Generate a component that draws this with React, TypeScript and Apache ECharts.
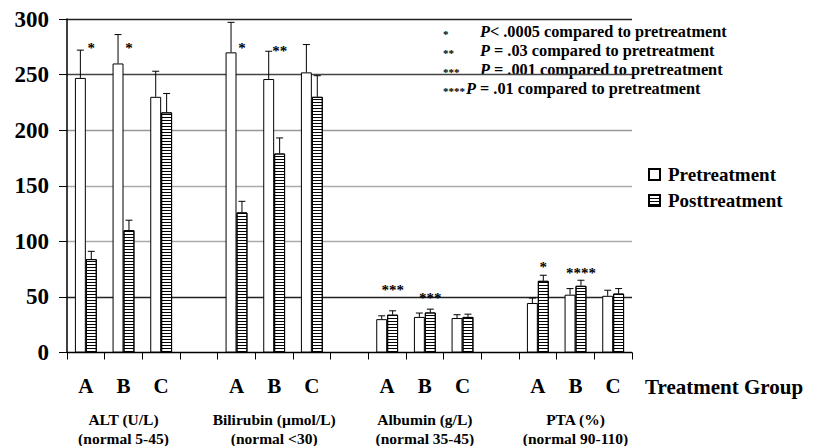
import React, { useEffect, useRef } from "react";
import * as echarts from "echarts";

const categories = ["A", "B", "C", "", "A", "B", "C", "", "A", "B", "C", "", "A", "B", "C"];
const groupNames = ["ALT (U/L)", "Bilirubin (µmol/L)", "Albumin (g/L)", "PTA (%)"];
const groupNormals = ["(normal 5-45)", "(normal <30)", "(normal 35-45)", "(normal 90-110)"];
const preValues = [247, 260, 230, null, 270, 246, 252, null, 30, 32, 31, null, 44.5, 52, 51];
const preErrTop = [272, 286, 253, null, 297, 271, 277, null, 33, 35.5, 34, null, 49, 57.5, 56];
const postValues = [84, 110, 216, null, 126, 179, 230, null, 34, 36, 32, null, 64.5, 60, 53];
const postErrTop = [91, 119, 233, null, 136, 193, 249, null, 37.5, 39, 34.5, null, 69.5, 65, 57.5];
const starLabels = ["*", "*", "", "", "*", "**", "", "", "***", "***", "", "", "*", "****", ""];
const starValues = [277, 277, null, null, 277, 274, null, null, 59, 52, null, null, 80, 74, null];
const yTicks = { min: 0, max: 300, interval: 50 };
const noteStars = ["*", "**", "***", "****"];
const noteTexts = ["< .0005 compared to pretreatment", " = .03 compared to pretreatment", " = .001 compared to pretreatment", " = .01 compared to pretreatment"];
const xAxisTitle = "Treatment Group";

const SERIF = "Liberation Serif";
const BAR_GAP = 0.42;

export default function App() {
  const ref = useRef<HTMLDivElement>(null);
  useEffect(() => {
    if (!ref.current) return;
    const chart = echarts.init(ref.current, undefined, { renderer: "svg" });
    const half = (1 - BAR_GAP) / 4;

    const errData = (vals: (number | null)[], tops: (number | null)[]) =>
      vals
        .map((v, i) => (v == null || tops[i] == null ? null : [i, v, tops[i]]))
        .filter((d) => d !== null);

    const makeErr = (name: string, data: any[], sign: number) => ({
      type: "custom",
      name,
      z: 5,
      silent: true,
      encode: { x: 0, y: 1 },
      data,
      renderItem: (params: any, api: any) => {
        const idx = api.value(0);
        const band = api.size([1, 0])[0];
        const base = api.coord([idx, api.value(1)]);
        const top = api.coord([idx, api.value(2)]);
        const x = base[0] + sign * band * half;
        const cap = 3.5;
        return {
          type: "group",
          children: [
            { type: "line", shape: { x1: x, y1: base[1], x2: x, y2: top[1] }, style: { stroke: "#000", lineWidth: 1 } },
            { type: "line", shape: { x1: x - cap, y1: top[1], x2: x + cap, y2: top[1] }, style: { stroke: "#000", lineWidth: 1 } },
          ],
        };
      },
    });

    const starData = starValues
      .map((v, i) => (v == null ? null : [i, v]))
      .filter((d) => d !== null);

    const yColors = ["#000", "#222", "#aaa", "#aaa", "#999", "#444", "#222"];

    const graphic: any[] = [];
    const noteY = [31, 50, 69, 88];
    noteStars.forEach((s, i) => {
      graphic.push({
        type: "text",
        x: 443,
        y: noteY[i] + 3,
        style: { text: s, fill: "#000", fontFamily: SERIF, fontSize: 11, fontWeight: "bold", verticalAlign: "middle" },
      });
      graphic.push({
        type: "text",
        x: i === 3 ? 466 : 480,
        y: noteY[i],
        style: {
          text: `{i|P}{n|${noteTexts[i]}}`,
          fill: "#000",
          verticalAlign: "middle",
          rich: {
            i: { fontFamily: SERIF, fontSize: 16.3, fontWeight: "bold", fontStyle: "italic", fill: "#000" },
            n: { fontFamily: SERIF, fontSize: 16.3, fontWeight: "bold", fill: "#000" },
          },
        },
      });
    });
    graphic.push({
      type: "text",
      x: 645,
      y: 387,
      style: { text: xAxisTitle, fill: "#000", fontFamily: SERIF, fontSize: 21, fontWeight: "bold", verticalAlign: "middle" },
    });

    chart.setOption({
      animation: false,
      grid: { left: 67, right: 185, top: 19, bottom: 92 },
      legend: {
        orient: "vertical",
        left: 643,
        top: 160,
        itemWidth: 11,
        itemHeight: 11,
        itemGap: 7,
        icon: "rect",
        data: ["Pretreatment", "Posttreatment"],
        textStyle: { fontFamily: SERIF, fontSize: 19, fontWeight: "bold", color: "#000", padding: [0, 0, 0, 3] },
      },
      xAxis: {
        type: "category",
        data: categories,
        axisLine: { lineStyle: { color: "#000", width: 1 } },
        axisTick: { show: true, length: 7, interval: 0, lineStyle: { color: "#000" } },
        axisLabel: {
          interval: 0,
          margin: 10,
          formatter: (v: string, i: number) => {
            if (i % 4 === 1) {
              const g = (i - 1) / 4;
              return `{l|${v}}\n{g|${groupNames[g]}}\n{g|${groupNormals[g]}}`;
            }
            return `{l|${v}}`;
          },
          rich: {
            l: { fontFamily: SERIF, fontSize: 21, fontWeight: "bold", color: "#000", lineHeight: 47 },
            g: { fontFamily: SERIF, fontSize: 15.5, fontWeight: "bold", color: "#000", lineHeight: 19 },
          },
        },
        splitLine: { show: false },
      },
      yAxis: {
        type: "value",
        min: yTicks.min,
        max: yTicks.max,
        interval: yTicks.interval,
        axisLine: { show: true, lineStyle: { color: "#000", width: 1.5 } },
        axisTick: { show: true, length: 8, lineStyle: { color: "#000" } },
        axisLabel: { margin: 18, fontFamily: SERIF, fontSize: 23, fontWeight: "bold", color: "#000" },
        splitLine: { show: true, lineStyle: { color: yColors, width: 1.3 } },
      },
      series: [
        {
          name: "Pretreatment",
          type: "bar",
          data: preValues.map((v) => (v == null ? "-" : v)),
          barGap: "0%",
          barCategoryGap: `${BAR_GAP * 100}%`,
          itemStyle: { color: "#fff", borderColor: "#000", borderWidth: 1 },
          z: 3,
        },
        {
          name: "Posttreatment",
          type: "bar",
          data: postValues.map((v) => (v == null ? "-" : v)),
          barGap: "0%",
          barCategoryGap: `${BAR_GAP * 100}%`,
          itemStyle: {
            color: "#fff",
            borderColor: "#000",
            borderWidth: 1,
            decal: {
              symbol: "rect",
              symbolSize: 1,
              dashArrayX: [10, 0],
              dashArrayY: [1, 2],
              rotation: 0,
              color: "#000",
              backgroundColor: "#fff",
            },
          },
          z: 3,
        },
        makeErr("preErr", errData(preValues, preErrTop), -1),
        makeErr("postErr", errData(postValues, postErrTop), 1),
        {
          type: "custom",
          name: "stars",
          z: 6,
          silent: true,
          encode: { x: 0, y: 1 },
          data: starData,
          renderItem: (params: any, api: any) => {
            const idx = api.value(0);
            const band = api.size([1, 0])[0];
            const p = api.coord([idx, api.value(1)]);
            return {
              type: "text",
              x: p[0] + band * half,
              y: p[1] + 3,
              style: {
                text: starLabels[idx],
                fill: "#000",
                fontFamily: SERIF,
                fontWeight: "bold",
                fontSize: 15,
                align: "center",
                verticalAlign: "middle",
              },
            };
          },
        },
      ],
      graphic,
    });
    return () => chart.dispose();
  }, []);
  return <div ref={ref} style={{ position: "absolute", left: 0, top: 0, width: 817, height: 446 }} />;
}
